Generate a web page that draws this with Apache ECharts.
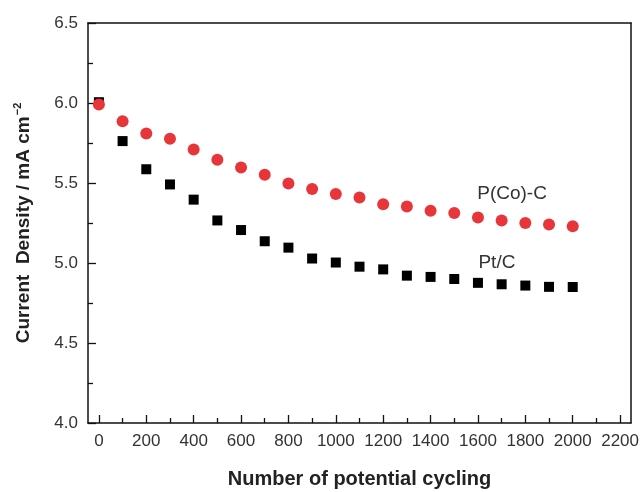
<!DOCTYPE html>
<html>
<head>
<meta charset="utf-8">
<script src="https://cdn.jsdelivr.net/npm/echarts@6/dist/echarts.min.js"></script>
<style>html,body{margin:0;padding:0;background:#fff}#c{width:640px;height:492px}</style>
</head>
<body>
<div id="c"></div>
<script>
const cycles = [0,100,200,300,400,500,600,700,800,900,1000,1100,1200,1300,1400,1500,1600,1700,1800,1900,2000];
const pcoc = [5.99,5.886,5.81,5.777,5.71,5.645,5.597,5.551,5.497,5.462,5.431,5.41,5.367,5.353,5.326,5.312,5.285,5.266,5.25,5.24,5.229];
const ptc = [6.005,5.762,5.586,5.491,5.396,5.266,5.206,5.136,5.096,5.028,5.003,4.977,4.96,4.921,4.913,4.90,4.876,4.867,4.859,4.851,4.85];
const xMajorTicks = [0,200,400,600,800,1000,1200,1400,1600,1800,2000,2200];
const xMinorTicks = [100,300,500,700,900,1100,1300,1500,1700,1900,2100];

const chart = echarts.init(document.getElementById('c'), null, {renderer:'canvas'});
const font = '"Liberation Sans", Arial, sans-serif';
const lineStyle = {color:'#111', width:1.5};
chart.setOption({
  animation:false,
  backgroundColor:'#fff',
  grid:{left:88, right:9, top:23, bottom:69, containLabel:false, outerBoundsMode:'none'},
  xAxis:[
    {type:'value', min:-46, max:2246, position:'bottom',
     axisLine:{show:true, onZero:false, lineStyle:lineStyle},
     axisTick:{show:true, inside:true, length:8, customValues:xMajorTicks, lineStyle:{color:'#111',width:1.3}},
     axisLabel:{customValues:xMajorTicks, color:'#333', fontSize:17, fontFamily:font, margin:10, formatter:v=>String(v)},
     splitLine:{show:false},
     name:'Number of potential cycling', nameLocation:'middle', nameGap:46,
     nameTextStyle:{fontSize:20, fontWeight:'bold', color:'#222', fontFamily:font}},
    {type:'value', min:-46, max:2246, position:'bottom',
     axisLine:{show:false},
     axisTick:{show:true, inside:true, length:5, customValues:xMinorTicks, lineStyle:{color:'#111',width:1.3}},
     axisLabel:{show:false}, splitLine:{show:false}},
    {type:'value', min:-46, max:2246, position:'top',
     axisLine:{show:true, onZero:false, lineStyle:lineStyle},
     axisTick:{show:false}, axisLabel:{show:false}, splitLine:{show:false}}
  ],
  yAxis:[
    {type:'value', min:4.0, max:6.5, interval:0.5, position:'left',
     axisLine:{show:true, onZero:false, lineStyle:lineStyle},
     axisTick:{show:true, inside:true, length:8, lineStyle:{color:'#111',width:1.3}},
     minorTick:{show:true, splitNumber:2, length:5, lineStyle:{color:'#111',width:1.3}},
     axisLabel:{color:'#333', fontSize:17, fontFamily:font, margin:10, formatter:v=>v.toFixed(1)},
     splitLine:{show:false},
     name:'Current  Density / mA cm{s|−2}', nameLocation:'middle', nameGap:53, nameRotate:90,
     nameTextStyle:{fontSize:19, fontWeight:'bold', color:'#222', fontFamily:font,
       rich:{s:{fontSize:11, fontWeight:'bold', color:'#222', fontFamily:font, verticalAlign:'top', padding:[0,0,12,1]}}}},
    {type:'value', min:4.0, max:6.5, position:'right',
     axisLine:{show:true, onZero:false, lineStyle:lineStyle},
     axisTick:{show:false}, axisLabel:{show:false}, splitLine:{show:false}}
  ],
  series:[
    {name:'Pt/C', type:'scatter', xAxisIndex:0, yAxisIndex:0, symbol:'rect', symbolSize:10,
     itemStyle:{color:'#000', opacity:1}, data:cycles.map((c,i)=>[c,ptc[i]]), z:2,
     markPoint:{symbol:'circle', symbolSize:0, silent:true,
       label:{show:true, formatter:'Pt/C', color:'#333', fontSize:19, fontFamily:font},
       data:[{coord:[1680,5.0]}]}},
    {name:'P(Co)-C', type:'scatter', xAxisIndex:0, yAxisIndex:0, symbol:'circle', symbolSize:12,
     itemStyle:{color:'#e8353a', opacity:1}, data:cycles.map((c,i)=>[c,pcoc[i]]), z:3,
     markPoint:{symbol:'circle', symbolSize:0, silent:true,
       label:{show:true, formatter:'P(Co)-C', color:'#333', fontSize:19, fontFamily:font},
       data:[{coord:[1744,5.43]}]}}
  ]
});
</script>
</body>
</html>
